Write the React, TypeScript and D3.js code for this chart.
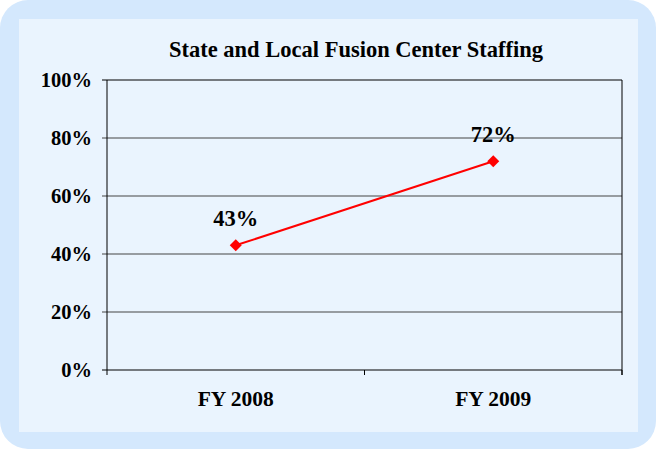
import React from 'react';
import * as d3 from 'd3';

const title = 'State and Local Fusion Center Staffing';
const categories = ['FY 2008', 'FY 2009'];
const values = [0.43, 0.72];
const yTicks = [0, 0.2, 0.4, 0.6, 0.8, 1];

const W = 656;
const H = 449;
const margin = { top: 80, right: 34, bottom: 79, left: 107 };
const font = '"Liberation Serif", "Times New Roman", serif';

const App = () => {
	const iw = W - margin.left - margin.right;
	const ih = H - margin.top - margin.bottom;
	const x = d3.scaleBand().domain(categories).range([0, iw]);
	const y = d3.scaleLinear().domain([0, 1]).range([ih, 0]);
	const pct = d3.format('.0%');
	const line = d3
		.line<number>()
		.x((d, i) => x(categories[i])! + x.bandwidth() / 2)
		.y((d) => y(d));
	const marker = d3.symbol(d3.symbolSquare, 72)();

	return (
		<svg width={W} height={H} style={{ position: 'absolute', left: 0, top: 0 }} fontFamily={font}>
			<rect x={0} y={0} width={W} height={H} fill="#ffffff" />
			<rect x={0} y={0} width={W} height={H} rx={28} fill="#d4e8fd" />
			<rect x={19} y={19} width={619} height={413} fill="#eaf4fe" />
			<text x={356} y={57} textAnchor="middle" fontSize={22.5} fontWeight="bold">
				{title}
			</text>
			<g transform={`translate(${margin.left}, ${margin.top})`}>
				{yTicks.map((t) => (
					<g key={t}>
						<line x1={-5} x2={iw} y1={y(t)} y2={y(t)} stroke={t === 0 || t === 1 ? '#000' : '#444'} strokeWidth={1} />
						<text x={-15} y={y(t) + 7} textAnchor="end" fontSize={20.5} fontWeight="bold">
							{pct(t)}
						</text>
					</g>
				))}
				<line x1={0} x2={0} y1={0} y2={ih} stroke="#000" />
				<line x1={iw} x2={iw} y1={0} y2={ih + 5} stroke="#000" />
				{[0, ...categories.map((c) => x(c)! + x.bandwidth())].map((p, i) => (
					<line key={i} x1={p} x2={p} y1={ih} y2={ih + 5} stroke="#000" />
				))}
				{categories.map((c) => (
					<text key={c} x={x(c)! + x.bandwidth() / 2} y={ih + 36} textAnchor="middle" fontSize={21.5} fontWeight="bold">
						{c}
					</text>
				))}
				<path d={line(values) || ''} fill="none" stroke="#ff0000" strokeWidth={2} />
				{values.map((v, i) => (
					<g key={i} transform={`translate(${x(categories[i])! + x.bandwidth() / 2}, ${y(v)})`}>
						<path d={marker || ''} fill="#ff0000" transform="rotate(45)" />
						<text y={-19} textAnchor="middle" fontSize={22.5} fontWeight="bold">
							{pct(v)}
						</text>
					</g>
				))}
			</g>
		</svg>
	);
};

export default App;
